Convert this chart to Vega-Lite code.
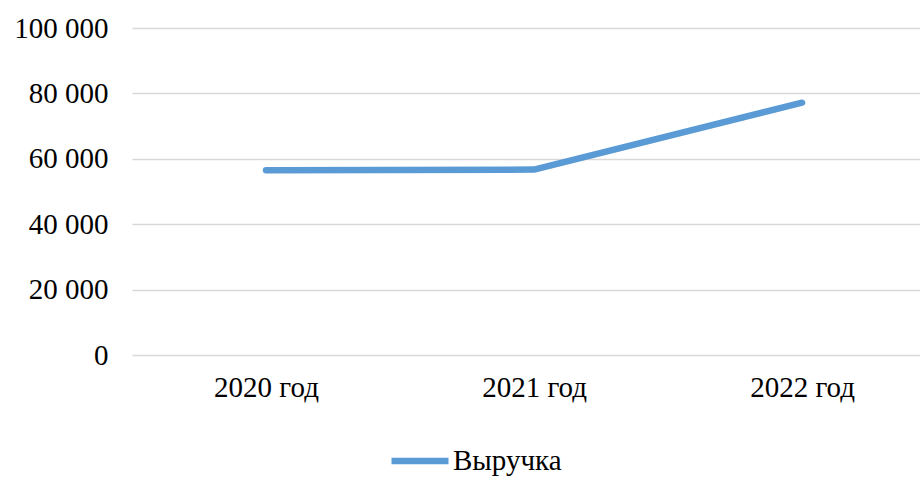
{
  "$schema": "https://vega.github.io/schema/vega-lite/v6.json",
  "autosize": {"type": "none"},
  "padding": {"left": 132, "top": 28, "right": 0, "bottom": 137},
  "width": 788,
  "height": 327,
  "background": "white",
  "data": {"values": [
    {"year": "2020 год", "value": 56500, "series": "Выручка"},
    {"year": "2021 год", "value": 56700, "series": "Выручка"},
    {"year": "2022 год", "value": 77150, "series": "Выручка"}
  ]},
  "mark": {"type": "line", "strokeWidth": 6.5, "strokeCap": "round", "strokeJoin": "round"},
  "encoding": {
    "x": {
      "field": "year", "type": "ordinal", "sort": null,
      "scale": {"type": "point", "padding": 0.47, "align": 0.532},
      "axis": {"title": null, "labelAngle": 0, "ticks": false, "domain": false, "labelPadding": 18, "grid": false}
    },
    "y": {
      "field": "value", "type": "quantitative",
      "scale": {"domain": [0, 100000]},
      "axis": {"title": null, "values": [0, 20000, 40000, 60000, 80000, 100000], "domain": false, "ticks": false, "labelPadding": 24, "gridColor": "#d9d9d9", "gridWidth": 1.3, "labelExpr": "replace(format(datum.value, ','), ',', ' ')"}
    },
    "color": {
      "field": "series", "type": "nominal",
      "scale": {"range": ["#5B9BD5"]},
      "legend": {"title": null, "orient": "none", "legendX": 256, "legendY": 401, "symbolType": "stroke", "symbolSize": 3249, "symbolStrokeWidth": 6.5, "labelOffset": 1}
    }
  },
  "config": {
    "view": {"stroke": null},
    "axis": {"labelFont": "Liberation Serif", "labelFontSize": 29, "labelColor": "#000000"},
    "legend": {"labelFont": "Liberation Serif", "labelFontSize": 29, "labelColor": "#000000", "labelLimit": 400}
  }
}
